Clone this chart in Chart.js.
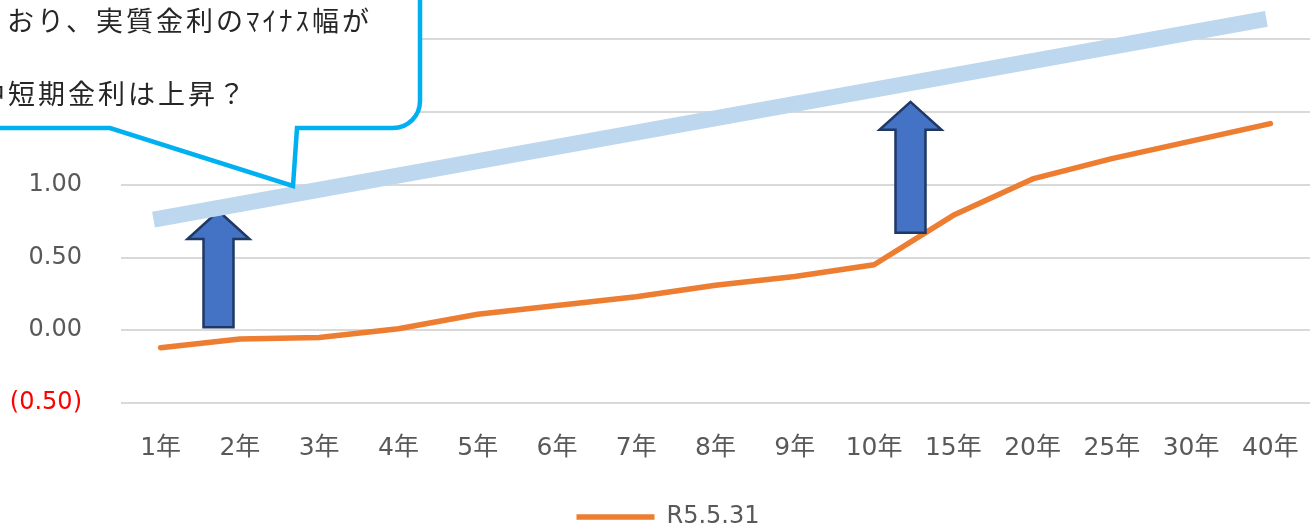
<!DOCTYPE html>
<html lang="ja">
<head>
<meta charset="utf-8">
<title>イールドカーブ R5.5.31</title>
<script src="https://cdn.jsdelivr.net/npm/chart.js@4.4.1/dist/chart.umd.min.js"></script>
<style>
  html, body { margin: 0; padding: 0; background: #fff; overflow: hidden; }
  canvas { display: block; }
</style>
</head>
<body>
<canvas id="chart" width="1310" height="531"></canvas>
<script>
// maturities along the x axis
const maturities = ['1年', '2年', '3年', '4年', '5年', '6年', '7年', '8年', '9年', '10年', '15年', '20年', '25年', '30年', '40年'];
// JGB yields on R5.5.31 (%)
const yieldsR050531 = [-0.12, -0.06, -0.05, 0.01, 0.11, 0.17, 0.23, 0.31, 0.37, 0.45, 0.79, 1.04, 1.18, 1.30, 1.42];
const seriesName = 'R5.5.31';
const yTicks = [-0.5, 0, 0.5, 1, 1.5, 2];

// speech bubble text
const calloutLines = ['おり、実質金利のﾏｲﾅｽ幅が', '中短期金利は上昇？'];

// annotation shapes, given in axis units (category index, %)
const trendBand = { from: [-0.09, 0.76], to: [13.95, 2.14] };
const upArrows = [
  { at: 0.73, from: 0.02, to: 0.82 },
  { at: 9.46, from: 0.67, to: 1.57 }
];

const latin = "'DejaVu Sans', 'Noto Sans CJK JP', sans-serif";
const grey = '#595959';

const fmtPct = v => v < 0 ? '(' + Math.abs(v).toFixed(2) + ')' : v.toFixed(2);

function drawArrow(ctx, cx, yBase, yTip) {
  const shaft = 15, head = 31, headLen = 28;
  ctx.beginPath();
  ctx.moveTo(cx - shaft, yBase);
  ctx.lineTo(cx - shaft, yTip + headLen);
  ctx.lineTo(cx - head, yTip + headLen);
  ctx.lineTo(cx, yTip);
  ctx.lineTo(cx + head, yTip + headLen);
  ctx.lineTo(cx + shaft, yTip + headLen);
  ctx.lineTo(cx + shaft, yBase);
  ctx.closePath();
  ctx.fillStyle = '#4472C4';
  ctx.fill();
  ctx.lineWidth = 2.5;
  ctx.strokeStyle = '#1F3864';
  ctx.lineJoin = 'miter';
  ctx.stroke();
}

function drawCallout(ctx) {
  ctx.save();
  ctx.beginPath();
  ctx.moveTo(-10, 128);
  ctx.lineTo(110, 128);
  ctx.lineTo(293, 186);
  ctx.lineTo(297, 128);
  ctx.lineTo(393, 128);
  ctx.arcTo(420, 128, 420, 100, 27);
  ctx.lineTo(420, -10);
  ctx.lineTo(-10, -10);
  ctx.closePath();
  ctx.fillStyle = '#fff';
  ctx.fill();
  ctx.lineWidth = 4.5;
  ctx.strokeStyle = '#00B0F0';
  ctx.stroke();

  ctx.font = "27px 'Noto Sans CJK JP'";
  ctx.fillStyle = '#262626';
  ctx.textBaseline = 'middle';
  ctx.letterSpacing = '3px';
  ctx.fillText(calloutLines[0], 7, 21);
  ctx.fillText(calloutLines[1], -22, 94);
  ctx.restore();
}

const overlays = {
  id: 'overlays',
  afterLayout(chart) {
    // nudge the legend a little right of centre
    if (chart.legend) {
      chart.legend.left += 13;
      chart.legend.right += 13;
    }
  },
  afterDatasetsDraw(chart) {
    const { ctx, scales: { x, y } } = chart;
    ctx.save();
    upArrows.forEach(a => drawArrow(ctx, x.getPixelForValue(a.at), y.getPixelForValue(a.from), y.getPixelForValue(a.to)));

    // thick light-blue trend band
    ctx.beginPath();
    ctx.moveTo(x.getPixelForValue(trendBand.from[0]), y.getPixelForValue(trendBand.from[1]));
    ctx.lineTo(x.getPixelForValue(trendBand.to[0]), y.getPixelForValue(trendBand.to[1]));
    ctx.lineWidth = 16;
    ctx.lineCap = 'butt';
    ctx.strokeStyle = '#BDD7EE';
    ctx.stroke();
    ctx.restore();
  },
  afterDraw(chart) {
    drawCallout(chart.ctx);
  }
};

new Chart(document.getElementById('chart'), {
  type: 'line',
  data: {
    labels: maturities,
    datasets: [{
      label: seriesName,
      data: yieldsR050531,
      borderColor: '#ED7D31',
      backgroundColor: '#ED7D31',
      borderWidth: 5.5,
      borderCapStyle: 'round',
      borderJoinStyle: 'round',
      pointRadius: 0,
      tension: 0,
      fill: false
    }]
  },
  options: {
    responsive: false,
    animation: false,
    devicePixelRatio: 1,
    layout: { padding: { left: 0, right: 0, top: 0, bottom: -8 } },
    plugins: {
      legend: {
        position: 'bottom',
        labels: {
          usePointStyle: true,
          pointStyle: 'line',
          pointStyleWidth: 78,
          padding: 10,
          color: grey,
          font: { family: latin, size: 24 }
        }
      },
      tooltip: { enabled: false }
    },
    scales: {
      x: {
        offset: true,
        grid: { display: false },
        border: { display: false },
        afterFit: s => {
          s.height = 92;
          s.paddingLeft = 0;
          s.paddingRight = 0;
        },
        ticks: {
          padding: 22,
          maxRotation: 0,
          autoSkip: false,
          color: grey,
          font: { family: latin, size: 25 }
        }
      },
      y: {
        min: -0.5,
        max: 2.27,
        afterBuildTicks: s => { s.ticks = yTicks.map(v => ({ value: v })); },
        afterFit: s => {
          s.width = 121;
          s.paddingTop = 0;
          s.paddingBottom = 0;
        },
        grid: { color: '#D9D9D9', lineWidth: 2, drawTicks: false },
        border: { display: false },
        ticks: {
          padding: 39,
          font: { family: latin, size: 24 },
          color: c => c.tick.value < 0 ? '#FF0000' : grey,
          callback: v => fmtPct(v)
        }
      }
    }
  },
  plugins: [overlays]
});
</script>
</body>
</html>
